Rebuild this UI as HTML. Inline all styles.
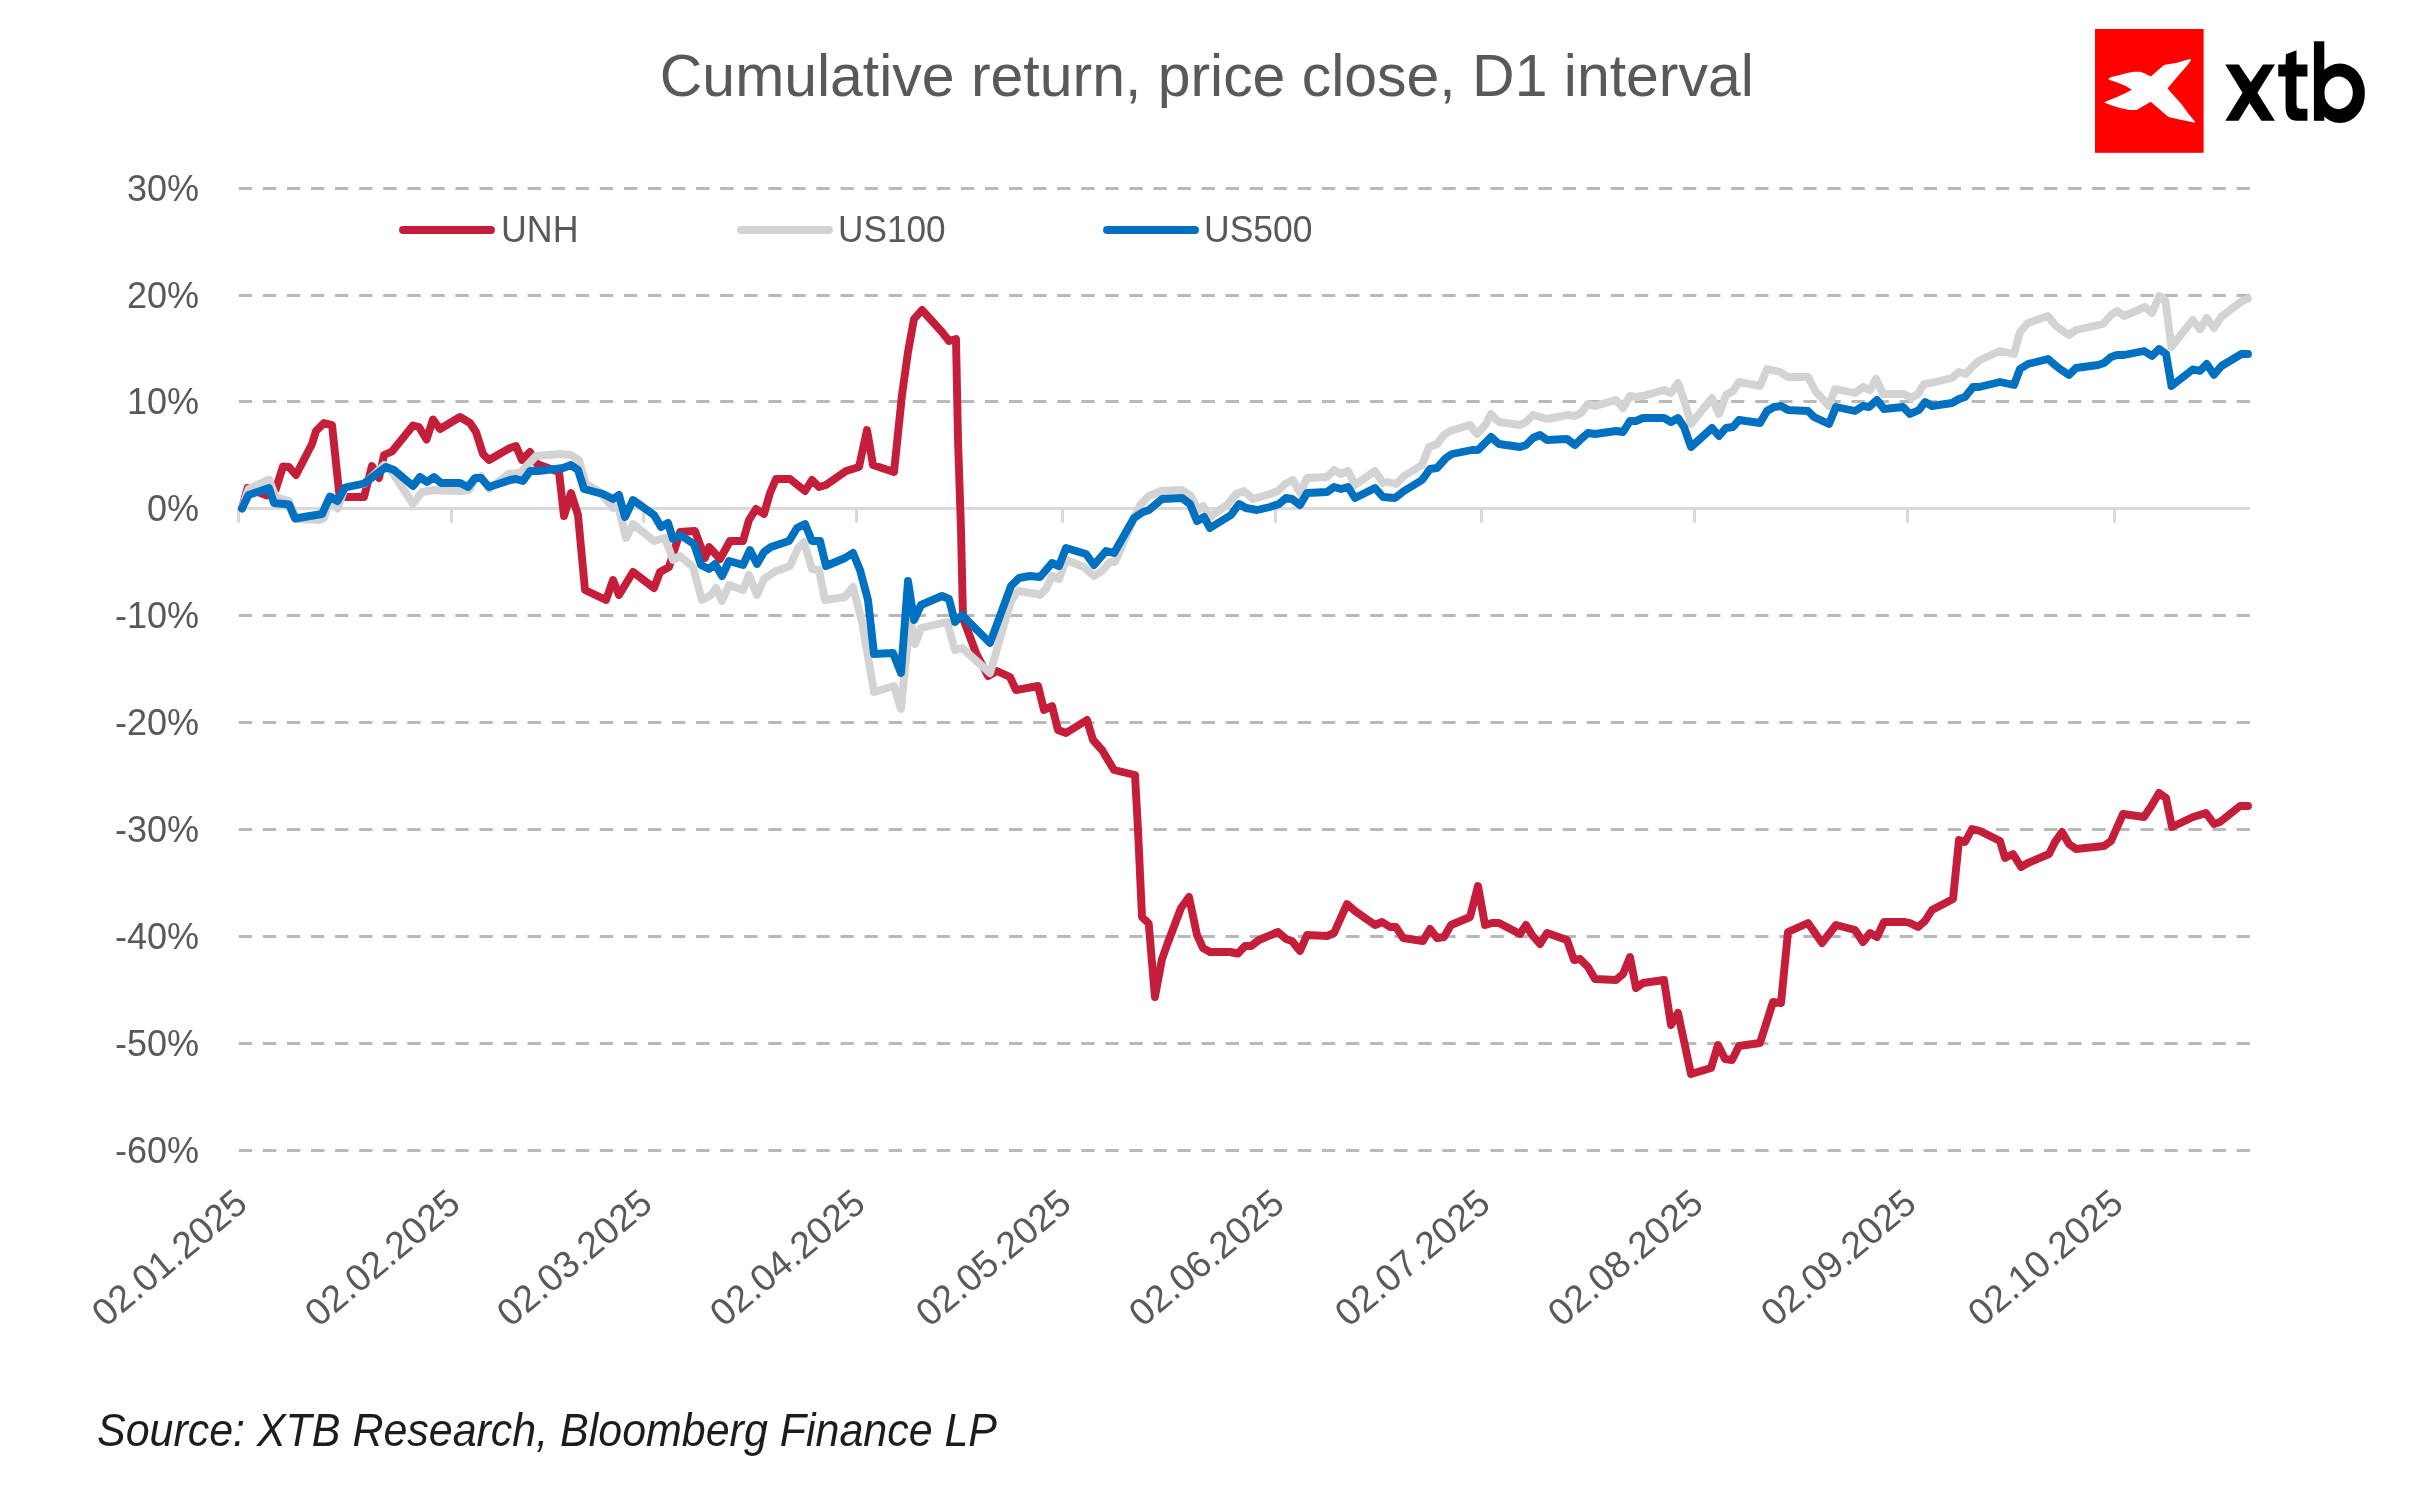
<!DOCTYPE html>
<html><head><meta charset="utf-8"><style>
html,body{margin:0;padding:0;background:#fff;overflow:hidden;}
svg{display:block;font-family:"Liberation Sans",sans-serif;will-change:transform;}
</style></head><body>
<svg width="2415" height="1498" viewBox="0 0 2415 1498">
<rect width="100%" height="100%" fill="#fff"/>
<text x="659.8" y="95.7" font-size="59.3" fill="#595959" textLength="1094" lengthAdjust="spacingAndGlyphs">Cumulative return, price close, D1 interval</text>
<line x1="238.8" x2="2250" y1="188.50" y2="188.50" stroke="#B9B9B9" stroke-width="3" stroke-dasharray="13.3 10.77"/>
<line x1="238.8" x2="2250" y1="295.50" y2="295.50" stroke="#B9B9B9" stroke-width="3" stroke-dasharray="13.3 10.77"/>
<line x1="238.8" x2="2250" y1="401.50" y2="401.50" stroke="#B9B9B9" stroke-width="3" stroke-dasharray="13.3 10.77"/>
<line x1="238.8" x2="2250" y1="615.50" y2="615.50" stroke="#B9B9B9" stroke-width="3" stroke-dasharray="13.3 10.77"/>
<line x1="238.8" x2="2250" y1="722.50" y2="722.50" stroke="#B9B9B9" stroke-width="3" stroke-dasharray="13.3 10.77"/>
<line x1="238.8" x2="2250" y1="829.50" y2="829.50" stroke="#B9B9B9" stroke-width="3" stroke-dasharray="13.3 10.77"/>
<line x1="238.8" x2="2250" y1="936.50" y2="936.50" stroke="#B9B9B9" stroke-width="3" stroke-dasharray="13.3 10.77"/>
<line x1="238.8" x2="2250" y1="1043.50" y2="1043.50" stroke="#B9B9B9" stroke-width="3" stroke-dasharray="13.3 10.77"/>
<line x1="238.8" x2="2250" y1="1150.50" y2="1150.50" stroke="#B9B9B9" stroke-width="3" stroke-dasharray="13.3 10.77"/>
<line x1="237" x2="2250" y1="508.5" y2="508.5" stroke="#D9D9D9" stroke-width="3"/>
<line x1="238.50" x2="238.50" y1="508" y2="522.6" stroke="#D9D9D9" stroke-width="3"/>
<line x1="451.50" x2="451.50" y1="508" y2="522.6" stroke="#D9D9D9" stroke-width="3"/>
<line x1="643.50" x2="643.50" y1="508" y2="522.6" stroke="#D9D9D9" stroke-width="3"/>
<line x1="856.50" x2="856.50" y1="508" y2="522.6" stroke="#D9D9D9" stroke-width="3"/>
<line x1="1062.50" x2="1062.50" y1="508" y2="522.6" stroke="#D9D9D9" stroke-width="3"/>
<line x1="1275.50" x2="1275.50" y1="508" y2="522.6" stroke="#D9D9D9" stroke-width="3"/>
<line x1="1481.50" x2="1481.50" y1="508" y2="522.6" stroke="#D9D9D9" stroke-width="3"/>
<line x1="1694.50" x2="1694.50" y1="508" y2="522.6" stroke="#D9D9D9" stroke-width="3"/>
<line x1="1907.50" x2="1907.50" y1="508" y2="522.6" stroke="#D9D9D9" stroke-width="3"/>
<line x1="2114.50" x2="2114.50" y1="508" y2="522.6" stroke="#D9D9D9" stroke-width="3"/>
<text x="199" y="200.5" font-size="36" fill="#595959" text-anchor="end">30%</text>
<text x="199" y="307.5" font-size="36" fill="#595959" text-anchor="end">20%</text>
<text x="199" y="413.5" font-size="36" fill="#595959" text-anchor="end">10%</text>
<text x="199" y="520.5" font-size="36" fill="#595959" text-anchor="end">0%</text>
<text x="199" y="627.5" font-size="36" fill="#595959" text-anchor="end">-10%</text>
<text x="199" y="734.5" font-size="36" fill="#595959" text-anchor="end">-20%</text>
<text x="199" y="841.5" font-size="36" fill="#595959" text-anchor="end">-30%</text>
<text x="199" y="948.5" font-size="36" fill="#595959" text-anchor="end">-40%</text>
<text x="199" y="1055.5" font-size="36" fill="#595959" text-anchor="end">-50%</text>
<text x="199" y="1162.5" font-size="36" fill="#595959" text-anchor="end">-60%</text>
<text transform="translate(249.5,1207) rotate(-40)" font-size="37.6" fill="#595959" text-anchor="end">02.01.2025</text>
<text transform="translate(462.5,1207) rotate(-40)" font-size="37.6" fill="#595959" text-anchor="end">02.02.2025</text>
<text transform="translate(654.5,1207) rotate(-40)" font-size="37.6" fill="#595959" text-anchor="end">02.03.2025</text>
<text transform="translate(867.5,1207) rotate(-40)" font-size="37.6" fill="#595959" text-anchor="end">02.04.2025</text>
<text transform="translate(1073.5,1207) rotate(-40)" font-size="37.6" fill="#595959" text-anchor="end">02.05.2025</text>
<text transform="translate(1286.5,1207) rotate(-40)" font-size="37.6" fill="#595959" text-anchor="end">02.06.2025</text>
<text transform="translate(1492.5,1207) rotate(-40)" font-size="37.6" fill="#595959" text-anchor="end">02.07.2025</text>
<text transform="translate(1705.5,1207) rotate(-40)" font-size="37.6" fill="#595959" text-anchor="end">02.08.2025</text>
<text transform="translate(1918.5,1207) rotate(-40)" font-size="37.6" fill="#595959" text-anchor="end">02.09.2025</text>
<text transform="translate(2125.5,1207) rotate(-40)" font-size="37.6" fill="#595959" text-anchor="end">02.10.2025</text>
<line x1="403" x2="491" y1="230" y2="230" stroke="#C41E3A" stroke-width="7.9" stroke-linecap="round"/>
<text x="501" y="242" font-size="36" fill="#595959" textLength="77.5" lengthAdjust="spacingAndGlyphs">UNH</text>
<line x1="741" x2="829" y1="230" y2="230" stroke="#D3D3D3" stroke-width="7.9" stroke-linecap="round"/>
<text x="838" y="242" font-size="36" fill="#595959" textLength="107.6" lengthAdjust="spacingAndGlyphs">US100</text>
<line x1="1107" x2="1195" y1="230" y2="230" stroke="#0070C0" stroke-width="7.9" stroke-linecap="round"/>
<text x="1204" y="242" font-size="36" fill="#595959" textLength="108.6" lengthAdjust="spacingAndGlyphs">US500</text>
<text x="97" y="1445.7" font-size="46" font-style="italic" fill="#1c1c1c" textLength="900" lengthAdjust="spacingAndGlyphs">Source: XTB Research, Bloomberg Finance LP</text>
<rect x="2095" y="29" width="108.6" height="123.8" fill="#FE0000"/>
<path d="M2108.50,78.74 L2111.15,76.98 L2119.07,75.22 L2127.00,73.02 L2134.05,71.70 L2140.22,71.70 L2143.74,73.02 L2150.79,76.54 L2164.01,65.09 L2171.06,63.77 L2178.11,62.44 L2185.15,60.24 L2190.44,58.92 L2191.15,60.07 L2187.80,64.65 L2178.11,75.66 L2167.53,88.44 L2172.82,94.60 L2181.63,104.30 L2188.68,113.99 L2195.55,122.36 L2193.08,122.62 L2186.92,121.04 L2178.11,119.27 L2168.41,117.07 L2150.79,101.65 L2136.70,110.02 L2129.65,110.02 L2120.84,108.26 L2111.15,105.18 L2104.10,102.53 L2107.62,100.77 L2116.43,97.25 L2125.24,93.28 L2131.85,89.76 L2125.24,85.79 L2116.43,82.27 L2108.94,79.63 Z" fill="#fff"/>
<path d="M2225.27,64.48 L2238.85,64.48 L2250.78,82.37 L2263.03,64.48 L2274.96,64.48 L2257.40,92.64 L2274.96,120.80 L2261.38,120.80 L2249.45,102.91 L2238.52,120.80 L2225.27,120.80 L2242.49,92.64 Z" fill="#000"/>
<path d="M2285.89,54.21 L2296.49,50.24 L2296.49,64.48 L2307.42,64.48 L2307.42,76.61 L2296.49,76.61 L2296.49,104.56 Q2296.82,108.87 2300.46,108.87 L2307.42,108.87 L2307.42,120.80 L2296.49,120.80 C2289.20,120.80 2285.56,115.16 2285.56,106.55 L2285.56,76.61 L2278.27,76.61 L2278.27,64.48 L2285.56,64.48 Z" fill="#000"/>
<rect x="2313.91" y="41.29" width="10.40" height="79.50" fill="#000"/>
<path d="M2314.91,93.30 A24.98,29.15 0 1,0 2364.86,93.30 A24.98,29.15 0 1,0 2314.91,93.30 Z M2324.31,92.77 A14.24,16.36 0 1,0 2352.80,92.77 A14.24,16.36 0 1,0 2324.31,92.77 Z" fill="#000" fill-rule="evenodd"/>
<path d="M242.0,508.5 L247.5,488.0 L267.0,495.5 L275.5,490.0 L283.0,466.5 L289.0,467.0 L296.0,475.0 L312.0,444.0 L316.0,431.0 L324.0,423.0 L332.0,425.0 L339.5,496.0 L345.0,497.0 L364.0,497.0 L372.0,466.0 L379.0,478.0 L384.0,455.0 L392.0,451.5 L413.0,425.5 L419.0,427.0 L426.5,439.5 L433.0,419.5 L440.0,429.0 L460.0,417.0 L470.0,423.0 L476.0,432.0 L483.0,454.0 L489.0,460.0 L510.0,448.0 L516.0,446.0 L522.0,460.0 L530.0,452.0 L537.0,464.0 L559.0,472.0 L564.0,516.0 L571.0,493.0 L578.0,515.0 L585.0,590.0 L606.0,600.0 L613.0,580.0 L619.0,595.0 L633.0,572.0 L654.0,588.0 L660.0,572.0 L669.0,567.0 L680.0,532.0 L695.0,531.0 L705.0,558.0 L709.0,547.0 L720.0,559.0 L730.0,541.0 L743.0,541.0 L749.0,520.0 L756.0,509.0 L764.0,514.0 L770.0,493.0 L776.0,479.0 L790.0,479.0 L805.0,491.0 L812.0,480.0 L819.0,487.0 L826.0,485.0 L846.0,471.0 L859.0,467.0 L867.0,430.0 L873.0,465.0 L894.0,472.0 L902.0,395.0 L908.0,352.0 L914.0,319.0 L922.0,310.0 L942.0,332.0 L949.0,341.0 L956.0,339.0 L958.0,440.0 L961.0,530.0 L963.0,618.0 L976.0,653.0 L988.0,676.0 L997.0,671.0 L1010.0,677.0 L1016.0,690.0 L1038.0,686.0 L1044.0,710.0 L1052.0,706.0 L1058.0,730.0 L1066.0,733.0 L1087.0,720.0 L1093.0,740.0 L1102.0,750.0 L1114.0,770.0 L1135.0,775.0 L1138.0,830.0 L1142.0,917.0 L1148.7,923.5 L1154.9,997.0 L1161.9,959.5 L1167.0,945.0 L1181.0,908.0 L1189.0,897.0 L1197.0,935.0 L1203.0,948.0 L1210.0,952.0 L1230.0,952.0 L1238.0,953.5 L1245.0,946.0 L1251.0,946.0 L1259.0,940.0 L1278.0,932.0 L1286.0,939.0 L1292.0,941.0 L1300.0,951.0 L1307.0,935.0 L1327.0,936.0 L1334.0,933.0 L1347.0,904.0 L1355.0,911.0 L1375.0,925.0 L1382.0,922.0 L1390.0,927.0 L1396.0,927.0 L1403.0,938.0 L1423.0,941.0 L1430.0,929.0 L1437.0,938.0 L1444.0,937.0 L1451.0,925.0 L1470.0,917.0 L1478.0,886.0 L1485.0,925.0 L1492.0,923.0 L1499.0,923.0 L1520.0,934.0 L1526.0,925.0 L1532.0,935.0 L1540.0,944.0 L1547.0,933.0 L1567.0,940.0 L1574.0,960.0 L1580.0,959.0 L1588.0,967.0 L1595.0,979.0 L1616.0,980.0 L1623.0,974.0 L1630.0,957.0 L1636.0,988.0 L1643.0,983.0 L1664.0,980.0 L1671.0,1025.0 L1678.0,1013.0 L1691.0,1074.0 L1711.0,1068.0 L1718.0,1045.0 L1725.0,1059.0 L1732.0,1060.0 L1739.0,1046.0 L1760.0,1043.0 L1773.0,1002.0 L1781.0,1003.0 L1788.0,932.0 L1808.0,923.0 L1822.0,943.0 L1836.0,925.0 L1855.0,930.0 L1863.0,942.0 L1870.0,933.0 L1877.0,937.0 L1884.0,922.0 L1905.0,922.0 L1910.0,923.0 L1918.0,927.0 L1925.0,921.0 L1932.0,910.0 L1953.0,899.0 L1959.0,840.0 L1965.0,842.0 L1972.0,829.0 L1980.0,831.0 L2000.0,841.0 L2005.0,858.0 L2013.0,854.0 L2021.0,867.0 L2028.0,863.0 L2049.0,854.0 L2055.0,842.0 L2062.0,832.0 L2069.0,844.0 L2076.0,849.0 L2104.0,846.0 L2111.0,841.0 L2123.0,814.0 L2144.0,817.0 L2152.0,805.0 L2159.0,793.0 L2166.0,798.0 L2172.0,827.0 L2193.0,817.0 L2206.0,813.0 L2214.0,824.0 L2220.0,822.0 L2240.0,806.0 L2248.0,806.0" fill="none" stroke="#C41E3A" stroke-width="7.9" stroke-linejoin="round" stroke-linecap="round"/>
<path d="M242.0,508.5 L248.5,489.0 L269.0,479.5 L275.5,497.0 L289.0,501.0 L296.0,519.0 L320.0,520.0 L324.0,518.0 L330.0,500.0 L337.5,508.5 L345.0,488.0 L364.0,484.0 L384.0,465.0 L392.0,472.0 L413.0,504.0 L422.0,492.0 L434.0,490.0 L441.0,490.5 L460.0,491.0 L469.0,490.0 L475.0,480.0 L481.0,476.0 L489.0,489.0 L508.0,474.0 L520.0,473.0 L536.0,456.0 L560.0,454.0 L571.0,455.0 L579.0,460.0 L586.0,484.0 L600.0,492.0 L613.0,508.0 L618.0,506.0 L626.0,538.0 L633.0,524.0 L654.0,541.0 L665.0,538.0 L673.0,560.0 L680.0,556.0 L693.0,567.0 L702.0,600.0 L711.0,595.0 L716.0,588.0 L722.0,601.0 L729.0,585.0 L743.0,590.0 L749.0,575.0 L757.0,595.0 L764.0,579.0 L776.0,571.0 L790.0,566.0 L798.0,548.0 L804.0,542.0 L812.0,569.0 L819.0,570.0 L825.0,600.0 L845.0,597.0 L853.0,587.0 L862.0,622.0 L866.0,645.0 L874.0,692.0 L894.0,686.0 L901.0,709.0 L910.0,618.0 L915.0,644.0 L921.0,628.0 L947.0,622.0 L955.0,650.0 L962.0,648.0 L990.0,673.0 L1011.0,601.0 L1018.0,591.0 L1037.0,594.0 L1040.0,595.0 L1046.0,589.0 L1052.0,576.0 L1059.0,579.0 L1066.0,560.0 L1084.0,567.0 L1094.0,576.0 L1102.0,571.0 L1110.0,562.0 L1115.0,562.0 L1140.0,505.0 L1149.0,496.0 L1161.0,491.0 L1182.0,490.0 L1191.0,496.0 L1198.0,510.0 L1203.0,506.0 L1210.0,517.0 L1228.0,504.0 L1236.0,494.0 L1244.0,491.0 L1253.0,499.0 L1270.0,494.0 L1278.0,491.0 L1285.0,484.0 L1293.0,480.0 L1300.0,493.0 L1307.0,478.0 L1327.0,477.0 L1334.0,470.0 L1341.0,474.0 L1348.0,471.0 L1355.0,485.0 L1375.0,471.0 L1383.0,483.0 L1388.0,482.0 L1396.0,484.0 L1404.0,476.0 L1422.0,465.0 L1429.0,447.0 L1437.0,444.0 L1444.0,435.0 L1450.0,431.0 L1470.0,425.0 L1477.0,434.0 L1486.0,424.0 L1491.0,414.0 L1499.0,422.0 L1520.0,425.0 L1526.0,422.0 L1533.0,415.0 L1547.0,419.0 L1568.0,415.0 L1575.0,416.0 L1581.0,413.0 L1588.0,404.0 L1595.0,406.0 L1616.0,400.0 L1623.0,408.0 L1630.0,396.0 L1636.0,397.0 L1643.0,396.0 L1664.0,390.0 L1671.0,393.0 L1678.0,383.0 L1684.0,400.0 L1691.0,424.0 L1712.0,398.0 L1719.0,414.0 L1726.0,395.0 L1733.0,391.0 L1739.0,382.0 L1760.0,386.0 L1767.0,369.0 L1780.0,372.0 L1788.0,377.0 L1808.0,377.0 L1816.0,392.0 L1829.0,406.0 L1835.0,389.0 L1855.0,393.0 L1863.0,387.0 L1870.0,390.0 L1876.0,379.0 L1883.0,394.0 L1904.0,394.0 L1911.0,398.0 L1918.0,394.0 L1924.0,384.0 L1931.0,383.0 L1952.0,378.0 L1959.0,372.0 L1966.0,374.0 L1973.0,366.0 L1980.0,360.0 L2000.0,351.0 L2014.0,354.0 L2020.0,332.0 L2028.0,323.0 L2048.0,316.0 L2055.0,325.0 L2060.0,329.0 L2069.0,335.0 L2076.0,330.0 L2103.0,324.0 L2111.0,315.0 L2117.0,311.0 L2124.0,316.0 L2145.0,307.0 L2152.0,313.0 L2159.3,296.0 L2165.4,300.7 L2171.4,346.8 L2192.7,320.0 L2200.0,329.4 L2206.7,318.0 L2214.0,328.0 L2221.4,316.7 L2241.5,301.4 L2248.0,298.7" fill="none" stroke="#D3D3D3" stroke-width="7.9" stroke-linejoin="round" stroke-linecap="round"/>
<path d="M242.0,508.5 L248.5,495.0 L269.0,488.0 L274.0,503.0 L289.0,504.5 L295.0,518.5 L322.0,514.0 L330.0,496.5 L337.5,501.0 L345.0,487.5 L364.0,483.5 L386.0,467.0 L394.0,470.0 L413.0,486.0 L420.0,477.0 L427.0,482.0 L434.0,477.0 L441.0,483.0 L460.0,483.0 L468.0,487.0 L475.0,478.0 L481.0,478.0 L489.0,487.0 L510.0,480.0 L516.0,479.0 L523.0,481.0 L530.0,471.0 L538.0,471.0 L563.0,468.0 L571.0,465.0 L578.0,470.0 L584.0,489.0 L603.0,494.0 L613.0,499.0 L619.0,495.0 L625.0,517.0 L633.0,500.0 L654.0,515.0 L661.0,527.0 L668.0,523.0 L673.0,539.0 L680.0,535.0 L694.0,544.0 L701.0,565.0 L709.0,569.0 L715.0,564.0 L722.0,576.0 L729.0,561.0 L743.0,565.0 L750.0,550.0 L757.0,564.0 L764.0,552.0 L771.0,547.0 L789.0,541.0 L797.0,528.0 L805.0,524.0 L812.0,541.0 L820.0,541.0 L826.0,566.0 L845.0,558.0 L853.0,553.0 L860.0,570.0 L868.0,600.0 L874.0,654.0 L893.0,653.0 L901.0,673.0 L908.0,581.0 L914.0,620.0 L921.0,605.0 L942.0,596.0 L949.0,599.0 L955.0,622.0 L962.0,615.0 L990.0,643.0 L1011.0,586.0 L1019.0,578.0 L1030.0,576.0 L1040.0,577.0 L1052.0,563.0 L1059.0,566.0 L1066.0,548.0 L1086.0,554.0 L1094.0,565.0 L1106.0,551.0 L1114.0,553.0 L1134.0,518.0 L1143.0,512.0 L1149.0,510.0 L1162.0,499.0 L1182.0,498.0 L1190.0,504.0 L1197.0,521.0 L1204.0,517.0 L1210.0,528.0 L1231.0,515.0 L1239.0,504.0 L1246.0,508.0 L1257.0,510.0 L1270.0,507.0 L1279.0,504.0 L1286.0,498.0 L1292.0,499.0 L1300.0,505.0 L1307.0,493.0 L1327.0,492.0 L1334.0,487.0 L1341.0,489.0 L1348.0,487.0 L1355.0,498.0 L1375.0,488.0 L1383.0,497.0 L1395.0,498.0 L1404.0,491.0 L1422.0,480.0 L1430.0,469.0 L1437.0,468.0 L1446.0,458.0 L1452.0,454.0 L1472.0,450.0 L1478.0,450.0 L1491.0,437.0 L1499.0,444.0 L1520.0,447.0 L1526.0,445.0 L1533.0,438.0 L1540.0,435.0 L1547.0,440.0 L1567.0,439.0 L1575.0,445.0 L1581.0,439.0 L1588.0,433.0 L1595.0,434.0 L1616.0,431.0 L1623.0,432.0 L1630.0,421.0 L1636.0,421.0 L1643.0,418.0 L1664.0,418.0 L1671.0,422.0 L1678.0,418.0 L1684.0,427.0 L1691.0,447.0 L1712.0,428.0 L1719.0,436.0 L1726.0,428.0 L1733.0,427.0 L1739.0,420.0 L1760.0,423.0 L1767.0,411.0 L1774.0,407.0 L1781.0,406.0 L1788.0,410.0 L1808.0,411.0 L1814.0,417.0 L1829.0,424.0 L1836.0,407.0 L1855.0,411.0 L1863.0,406.0 L1869.0,407.0 L1877.0,400.0 L1884.0,409.0 L1903.0,407.0 L1910.0,414.0 L1919.0,410.0 L1925.0,402.0 L1932.0,406.0 L1952.0,403.0 L1959.0,399.0 L1965.0,397.0 L1973.0,387.0 L1979.0,387.0 L2000.0,382.0 L2014.0,385.0 L2020.0,369.0 L2028.0,364.0 L2048.0,359.0 L2055.0,365.0 L2060.0,369.0 L2069.0,375.0 L2076.0,368.0 L2098.0,365.0 L2104.0,363.0 L2111.0,357.0 L2117.0,355.0 L2124.0,355.0 L2144.0,351.0 L2152.0,356.0 L2159.0,349.0 L2166.0,354.0 L2171.5,386.0 L2192.7,369.5 L2200.0,370.8 L2206.7,364.0 L2214.0,374.8 L2221.4,366.0 L2241.5,354.0 L2248.0,354.0" fill="none" stroke="#0070C0" stroke-width="7.9" stroke-linejoin="round" stroke-linecap="round"/>
</svg>
</body></html>
